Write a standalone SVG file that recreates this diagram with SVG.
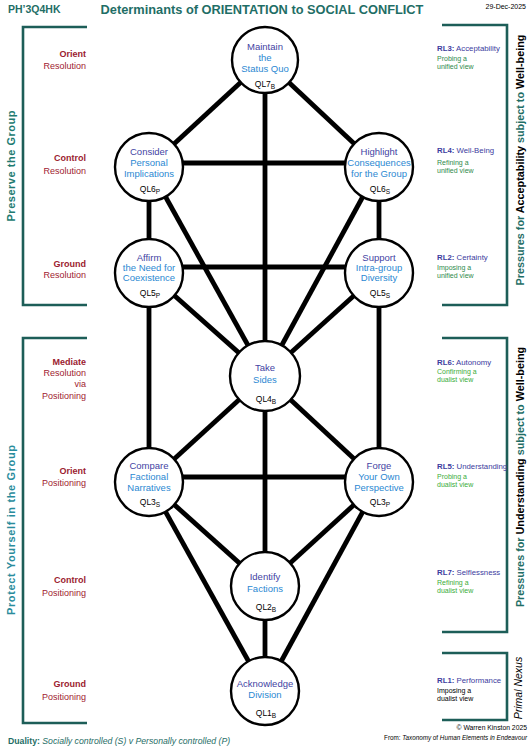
<svg xmlns="http://www.w3.org/2000/svg" width="532" height="750" viewBox="0 0 532 750">
<style>
text{font-family:"Liberation Sans",Arial,sans-serif}
.edge{stroke:#000;stroke-width:4.8;stroke-linecap:butt;fill:none}
.node circle{fill:#fff;stroke:#000;stroke-width:2.4}
.n1{fill:#4343a3;font-size:9.5px;text-anchor:middle}
.n2{fill:#2b88d2;font-size:9.5px;text-anchor:middle}
.ql{fill:#000;font-size:8.5px;text-anchor:middle}
.sub{font-size:6.5px}
.br{stroke:#1d5e58;stroke-width:2.6;fill:none}
.lb{fill:#9b1b30;font-size:9px;font-weight:bold;text-anchor:end}
.lr{fill:#a01a30;font-size:9px;text-anchor:end}
.rl{fill:#3c3c9e;font-size:7.8px}
.gu{fill:#2e8a4c;font-size:7px}
.gd{fill:#3aad3a;font-size:7px}
.teal{fill:#1f6e66}
</style>
<g id="header">
<text x="8" y="13" font-size="10.5" font-weight="bold" class="teal">PH’3Q4HK</text>
<text x="262" y="14" font-size="12.8" font-weight="bold" text-anchor="middle" class="teal">Determinants of ORIENTATION to SOCIAL CONFLICT</text>
<text x="526" y="9" font-size="7" text-anchor="end" fill="#000">29-Dec-2025</text>
</g>
<g id="brackets">
<path class="br" d="M87,27 H23 V305 H87"/>
<path class="br" d="M87,338 H23 V723 H87"/>
<path class="br" d="M442,25 H507 V305 H442"/>
<path class="br" d="M442,338 H507 V632 H442"/>
<path class="br" d="M442,653 H507 V720 H442"/>
<text transform="translate(14.5,166) rotate(-90)" text-anchor="middle" font-size="11" font-weight="bold" fill="#217a70" textLength="111" lengthAdjust="spacing">Preserve the Group</text>
<text transform="translate(14.5,530) rotate(-90)" text-anchor="middle" font-size="11" font-weight="bold" fill="#2a8c9c" textLength="170" lengthAdjust="spacing">Protect Yourself in the Group</text>
<text transform="translate(524,160) rotate(-90)" text-anchor="middle" font-size="10.8" font-weight="bold"><tspan fill="#1f6e66">Pressures for </tspan><tspan fill="#000">Acceptability </tspan><tspan fill="#1f6e66">subject to </tspan><tspan fill="#000">Well-being</tspan></text>
<text transform="translate(524,477) rotate(-90)" text-anchor="middle" font-size="10.8" font-weight="bold"><tspan fill="#1f6e66">Pressures for </tspan><tspan fill="#000">Understanding </tspan><tspan fill="#1f6e66">subject to </tspan><tspan fill="#000">Well-being</tspan></text>
<text transform="translate(522,688) rotate(-90)" text-anchor="middle" font-size="10.5" font-style="italic" fill="#000">Primal Nexus</text>
</g>
<g id="left-labels">
<text x="86" y="56.5" class="lb">Orient</text>
<text x="86" y="69" class="lr">Resolution</text>
<text x="86" y="160.5" class="lb">Control</text>
<text x="86" y="173.5" class="lr">Resolution</text>
<text x="86" y="266.5" class="lb">Ground</text>
<text x="86" y="277.5" class="lr">Resolution</text>
<text x="86" y="364.5" class="lb">Mediate</text>
<text x="86" y="375.5" class="lr">Resolution</text>
<text x="86" y="386.5" class="lr">via</text>
<text x="86" y="398.5" class="lr">Positioning</text>
<text x="86" y="473.5" class="lb">Orient</text>
<text x="86" y="485.5" class="lr">Positioning</text>
<text x="86" y="582.5" class="lb">Control</text>
<text x="86" y="595.5" class="lr">Positioning</text>
<text x="86" y="686.5" class="lb">Ground</text>
<text x="86" y="699.5" class="lr">Positioning</text>
</g>
<g id="right-labels">
<text x="437" y="51" class="rl"><tspan font-weight="bold">RL3:</tspan> Acceptability</text>
<text x="437" y="61" class="gu">Probing a</text>
<text x="437" y="69.2" class="gu">unified view</text>
<text x="437" y="153" class="rl"><tspan font-weight="bold">RL4:</tspan> Well-Being</text>
<text x="437" y="164.5" class="gu">Refining a</text>
<text x="437" y="172.7" class="gu">unified view</text>
<text x="437" y="260" class="rl"><tspan font-weight="bold">RL2:</tspan> Certainty</text>
<text x="437" y="269.5" class="gu">Imposing a</text>
<text x="437" y="277.7" class="gu">unified view</text>
<text x="437" y="365" class="rl"><tspan font-weight="bold">RL6:</tspan> Autonomy</text>
<text x="437" y="374.2" class="gd">Confirming a</text>
<text x="437" y="382.4" class="gd">dualist view</text>
<text x="437" y="469" class="rl"><tspan font-weight="bold">RL5:</tspan> Understanding</text>
<text x="437" y="478.5" class="gd">Probing a</text>
<text x="437" y="486.7" class="gd">dualist view</text>
<text x="437" y="575" class="rl"><tspan font-weight="bold">RL7:</tspan> Selflessness</text>
<text x="437" y="584.5" class="gd">Refining a</text>
<text x="437" y="592.7" class="gd">dualist view</text>
<text x="437" y="683" class="rl"><tspan font-weight="bold">RL1:</tspan> Performance</text>
<text x="437" y="693" font-size="7" fill="#000">Imposing a</text>
<text x="437" y="701.2" font-size="7" fill="#000">dualist view</text>
</g>
<g id="connectors">
<line class="edge" x1="265" y1="60" x2="149" y2="167"/>
<line class="edge" x1="265" y1="60" x2="379" y2="167"/>
<line class="edge" x1="265" y1="60" x2="265" y2="376"/>
<line class="edge" x1="149" y1="163" x2="379" y2="163"/>
<line class="edge" x1="149" y1="167" x2="149" y2="273"/>
<line class="edge" x1="379" y1="167" x2="379" y2="273"/>
<line class="edge" x1="149" y1="167" x2="265" y2="376"/>
<line class="edge" x1="379" y1="167" x2="265" y2="376"/>
<line class="edge" x1="149" y1="267" x2="379" y2="267"/>
<line class="edge" x1="149" y1="273" x2="265" y2="376"/>
<line class="edge" x1="379" y1="273" x2="265" y2="376"/>
<line class="edge" x1="149" y1="273" x2="149" y2="482"/>
<line class="edge" x1="379" y1="273" x2="379" y2="482"/>
<line class="edge" x1="265" y1="376" x2="149" y2="482"/>
<line class="edge" x1="265" y1="376" x2="379" y2="482"/>
<line class="edge" x1="265" y1="376" x2="265" y2="586"/>
<line class="edge" x1="149" y1="477" x2="379" y2="477"/>
<line class="edge" x1="149" y1="482" x2="265" y2="586"/>
<line class="edge" x1="379" y1="482" x2="265" y2="586"/>
<line class="edge" x1="149" y1="482" x2="265" y2="691"/>
<line class="edge" x1="379" y1="482" x2="265" y2="691"/>
<line class="edge" x1="265" y1="586" x2="265" y2="691"/>
</g>
<g id="QL7" class="node">
<circle cx="265" cy="60" r="33"/>
<text x="265" y="49.5" class="n1">Maintain</text>
<text x="265" y="60.5" class="n2">the</text>
<text x="265" y="71.5" class="n2">Status Quo</text>
<text x="265" y="87" class="ql">QL7<tspan class="sub" dy="1.5">B</tspan></text>
</g>
<g id="QL6P" class="node">
<circle cx="149" cy="167" r="34"/>
<text x="149" y="154.5" class="n1">Consider</text>
<text x="149" y="165.5" class="n2">Personal</text>
<text x="149" y="176.5" class="n2">Implications</text>
<text x="150" y="192" class="ql">QL6<tspan class="sub" dy="1.5">P</tspan></text>
</g>
<g id="QL6S" class="node">
<circle cx="379" cy="167" r="34"/>
<text x="379" y="154.5" class="n1">Highlight</text>
<text x="379" y="165.5" class="n2">Consequences</text>
<text x="379" y="176.5" class="n2">for the Group</text>
<text x="380" y="192" class="ql">QL6<tspan class="sub" dy="1.5">S</tspan></text>
</g>
<g id="QL5P" class="node">
<circle cx="149" cy="273" r="34"/>
<text x="149" y="260.5" class="n1">Affirm</text>
<text x="149" y="270.5" class="n2">the Need for</text>
<text x="149" y="280.5" class="n2">Coexistence</text>
<text x="150" y="296" class="ql">QL5<tspan class="sub" dy="1.5">P</tspan></text>
</g>
<g id="QL5S" class="node">
<circle cx="379" cy="273" r="34"/>
<text x="379" y="260.5" class="n1">Support</text>
<text x="379" y="270.5" class="n2">Intra-group</text>
<text x="379" y="280.5" class="n2">Diversity</text>
<text x="380" y="296" class="ql">QL5<tspan class="sub" dy="1.5">S</tspan></text>
</g>
<g id="QL4" class="node">
<circle cx="265" cy="376" r="35"/>
<text x="265" y="370.5" class="n1">Take</text>
<text x="265" y="382.5" class="n2">Sides</text>
<text x="266" y="402" class="ql">QL4<tspan class="sub" dy="1.5">B</tspan></text>
</g>
<g id="QL3S" class="node">
<circle cx="149" cy="482" r="34"/>
<text x="149" y="468.5" class="n1">Compare</text>
<text x="149" y="479.5" class="n2">Factional</text>
<text x="149" y="490.5" class="n2">Narratives</text>
<text x="150" y="505" class="ql">QL3<tspan class="sub" dy="1.5">S</tspan></text>
</g>
<g id="QL3P" class="node">
<circle cx="379" cy="482" r="34"/>
<text x="379" y="468.5" class="n1">Forge</text>
<text x="379" y="479.5" class="n2">Your Own</text>
<text x="379" y="490.5" class="n2">Perspective</text>
<text x="380" y="505" class="ql">QL3<tspan class="sub" dy="1.5">P</tspan></text>
</g>
<g id="QL2" class="node">
<circle cx="265" cy="586" r="34"/>
<text x="265" y="579.5" class="n1">Identify</text>
<text x="265" y="591.5" class="n2">Factions</text>
<text x="266" y="610" class="ql">QL2<tspan class="sub" dy="1.5">B</tspan></text>
</g>
<g id="QL1" class="node">
<circle cx="265" cy="691" r="34"/>
<text x="265" y="686.5" class="n1">Acknowledge</text>
<text x="265" y="697.5" class="n2">Division</text>
<text x="266" y="716" class="ql">QL1<tspan class="sub" dy="1.5">B</tspan></text>
</g>
<g id="footer">
<text x="8" y="743.5" font-size="8.7" fill="#1f6e66"><tspan font-weight="bold">Duality:</tspan><tspan font-style="italic"> Socially controlled (S)  v  Personally controlled (P)</tspan></text>
<text x="527" y="730" font-size="6.8" text-anchor="end" fill="#000">© Warren Kinston 2025</text>
<text x="527" y="740" font-size="6.3" text-anchor="end" fill="#000">From: <tspan font-style="italic">Taxonomy</tspan> of <tspan font-style="italic">Human Elements in Endeavour</tspan></text>
</g>
</svg>
